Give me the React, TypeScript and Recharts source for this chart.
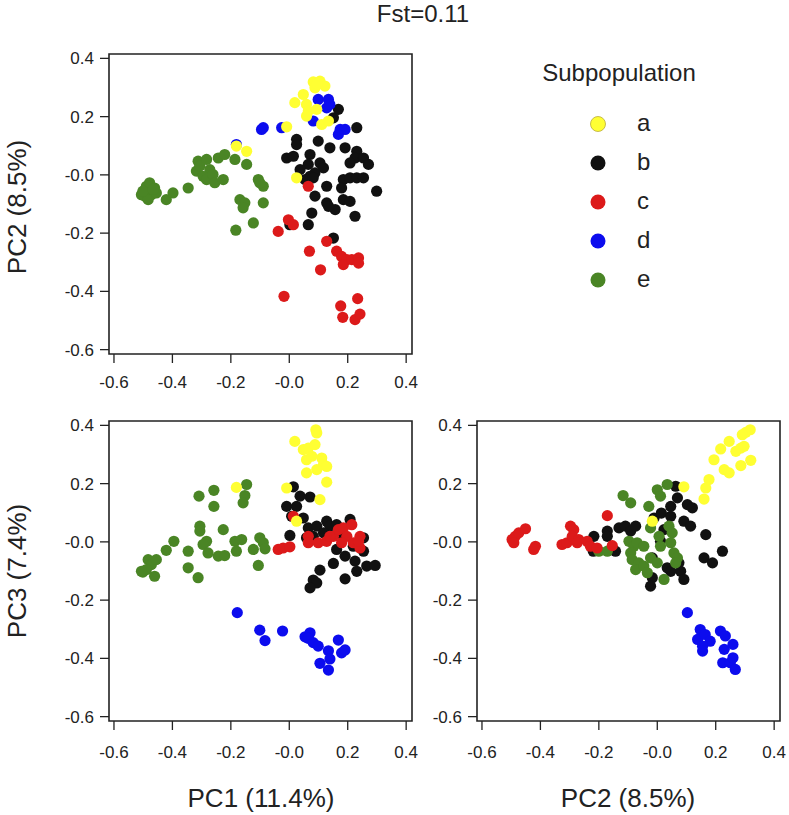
import { ScatterChart, Scatter, XAxis, YAxis, ReferenceArea } from "recharts";

type Pt = [number, number];

const ticks = [-0.6, -0.4, -0.2, 0, 0.2, 0.4];
const xDomain: [number, number] = [-0.617, 0.42];
const yDomain: [number, number] = [-0.615, 0.415];

const groups = ["a", "b", "c", "d", "e"];
const colors: Record<string, string> = {
  a: "#ffff33",
  b: "#111111",
  c: "#dc1a1a",
  d: "#0c0cee",
  e: "#4a8525",
};
// draw order, last on top
const drawOrder = ["b", "e", "c", "d", "a"];

// PC1 vs PC2
const pc1pc2A: Pt[] = [
  [0.082, 0.319], [0.105, 0.322], [0.122, 0.305], [0.088, 0.299], [0.095, 0.312],
  [0.048, 0.276], [0.019, 0.248], [0.059, 0.242], [0.065, 0.219], [0.094, 0.225],
  [0.059, 0.202], [0.111, 0.173], [0.134, 0.185], [-0.009, 0.165], [0.025, -0.01],
  [-0.181, 0.099], [-0.146, 0.081],
];
const pc1pc2B: Pt[] = [
  [0.168, 0.225], [0.151, 0.196], [0.231, 0.162], [0.025, 0.122], [0.025, 0.104],
  [0.099, 0.116], [0.139, 0.093], [0.191, 0.093], [0.231, 0.081], [0.071, 0.07],
  [-0.009, 0.058], [0.014, 0.064], [0.225, 0.058], [0.254, 0.058], [0.271, 0.036],
  [0.208, 0.041], [0.065, 0.036], [0.105, 0.041], [0.117, 0.024], [0.037, 0.018],
  [0.088, 0.007], [0.071, -0.005], [0.054, -0.016], [0.082, -0.01], [0.128, -0.039],
  [0.185, -0.016], [0.208, -0.01], [0.231, -0.01], [0.254, -0.01], [0.179, -0.045],
  [0.299, -0.056], [0.185, -0.085], [0.208, -0.091], [0.088, -0.073], [0.128, -0.096],
  [0.157, -0.119], [0.134, -0.108], [0.077, -0.131], [0.225, -0.142], [0.065, -0.171],
  [0.002, -0.171], [0.151, -0.217],
];
const pc1pc2C: Pt[] = [
  [0.065, -0.039], [-0.003, -0.154], [0.014, -0.171], [-0.038, -0.194], [0.128, -0.228],
  [0.069, -0.262], [0.162, -0.262], [0.179, -0.28], [0.197, -0.291], [0.185, -0.308],
  [0.214, -0.291], [0.237, -0.285], [0.237, -0.303], [0.107, -0.326], [-0.018, -0.417],
  [0.176, -0.45], [0.234, -0.425], [0.183, -0.489], [0.225, -0.497], [0.242, -0.478],
];
const pc1pc2D: Pt[] = [
  [0.099, 0.259], [0.134, 0.259], [0.128, 0.23], [0.139, 0.242], [0.082, 0.185],
  [0.174, 0.156], [0.191, 0.156], [0.168, 0.139], [-0.095, 0.156], [-0.089, 0.162],
  [-0.026, 0.162], [-0.181, 0.104],
];
const pc1pc2E: Pt[] = [
  [-0.506, -0.068], [-0.489, -0.039], [-0.478, -0.027], [-0.461, -0.045], [-0.472, -0.068],
  [-0.495, -0.073], [-0.483, -0.085], [-0.455, -0.062], [-0.501, -0.056], [-0.466, -0.05],
  [-0.421, -0.085], [-0.398, -0.062], [-0.346, -0.045], [-0.318, 0.013], [-0.312, 0.047],
  [-0.306, 0.03], [-0.283, 0.053], [-0.272, 0.018], [-0.295, -0.005], [-0.283, -0.016],
  [-0.261, 0.001], [-0.255, -0.027], [-0.243, 0.058], [-0.226, -0.016], [-0.221, 0.07],
  [-0.186, 0.053], [-0.146, 0.036], [-0.106, -0.016], [-0.089, -0.039], [-0.101, -0.027],
  [-0.169, -0.085], [-0.152, -0.096], [-0.158, -0.113], [-0.089, -0.096], [-0.123, -0.165],
  [-0.183, -0.19],
];

// PC1 vs PC3
const pc1pc3A: Pt[] = [
  [0.091, 0.385], [0.094, 0.374], [0.019, 0.345], [0.048, 0.317], [0.065, 0.322],
  [0.088, 0.334], [0.059, 0.282], [0.077, 0.294], [0.111, 0.288], [0.117, 0.265],
  [0.128, 0.259], [0.094, 0.248], [0.059, 0.237], [0.128, 0.205], [0.105, 0.145],
  [-0.181, 0.187], [-0.009, 0.185], [0.025, 0.071],
];
const pc1pc3B: Pt[] = [
  [0.014, 0.189], [0.037, 0.157], [0.071, 0.154], [-0.009, 0.122], [0.025, 0.122],
  [0.048, 0.082], [0.008, 0.088], [0.002, 0.022], [0.065, 0.048], [0.094, 0.054],
  [0.128, 0.071], [0.139, 0.054], [0.162, 0.059], [0.208, 0.077], [0.082, 0.019],
  [0.117, 0.031], [0.185, 0.019], [0.254, 0.014], [0.162, -0.026], [0.219, -0.015],
  [0.254, -0.032], [0.191, -0.049], [0.225, -0.066], [0.265, -0.083], [0.294, -0.081],
  [0.151, -0.074], [0.105, -0.097], [0.231, -0.101], [0.191, -0.127], [0.082, -0.131],
  [0.094, -0.141], [0.071, -0.158], [0.059, 0.014],
];
const pc1pc3C: Pt[] = [
  [-0.038, -0.026], [-0.021, -0.021], [0.002, -0.017], [0.014, 0.088], [0.065, 0.019],
  [0.065, -0.003], [0.099, -0.003], [0.128, 0.002], [0.151, 0.019], [0.168, 0.042],
  [0.185, 0.048], [0.214, 0.059], [0.197, 0.019], [0.179, -0.003], [0.219, -0.003],
  [0.242, 0.019], [0.242, -0.021], [0.237, 0.002], [0.139, 0.019],
];
const pc1pc3D: Pt[] = [
  [-0.178, -0.243], [-0.101, -0.303], [-0.083, -0.339], [-0.023, -0.306], [0.054, -0.326],
  [0.071, -0.312], [0.065, -0.331], [0.082, -0.346], [0.099, -0.358], [0.134, -0.374],
  [0.139, -0.402], [0.105, -0.417], [0.134, -0.44], [0.168, -0.337], [0.179, -0.381],
  [0.191, -0.371],
];
const pc1pc3E: Pt[] = [
  [-0.501, -0.104], [-0.483, -0.061], [-0.472, -0.078], [-0.455, -0.061], [-0.489, -0.095],
  [-0.461, -0.118], [-0.506, -0.101], [-0.421, -0.029], [-0.395, 0.002], [-0.346, -0.032],
  [-0.346, -0.089], [-0.312, -0.123], [-0.309, 0.157], [-0.258, 0.177], [-0.258, 0.122],
  [-0.306, 0.054], [-0.306, 0.037], [-0.283, 0.002], [-0.295, -0.009], [-0.278, -0.038],
  [-0.243, -0.049], [-0.221, -0.047], [-0.226, 0.042], [-0.186, 0.002], [-0.163, 0.008],
  [-0.181, -0.032], [-0.146, 0.197], [-0.152, 0.159], [-0.158, 0.134], [-0.123, -0.026],
  [-0.101, 0.014], [-0.089, -0.003], [-0.083, -0.024], [-0.106, -0.081],
];

// PC2 vs PC3
const pc2pc3A: Pt[] = [
  [0.318, 0.385], [0.303, 0.376], [0.291, 0.368], [0.246, 0.345], [0.217, 0.319],
  [0.269, 0.311], [0.286, 0.322], [0.297, 0.328], [0.194, 0.282], [0.229, 0.248],
  [0.246, 0.237], [0.286, 0.262], [0.32, 0.28], [0.177, 0.214], [0.166, 0.185],
  [0.16, 0.147], [0.091, 0.189], [-0.017, 0.071],
];
const pc2pc3B: Pt[] = [
  [-0.217, 0.019], [-0.219, -0.032], [-0.171, 0.037], [-0.171, 0.019], [-0.143, -0.032],
  [-0.131, 0.048], [-0.109, 0.054], [-0.091, 0.037], [-0.074, 0.054], [-0.011, 0.082],
  [0.014, 0.099], [0.046, 0.088], [0.046, 0.122], [0.069, 0.151], [0.063, 0.191],
  [0.103, 0.128], [0.12, 0.117], [0.091, 0.071], [0.114, 0.054], [0.166, 0.025],
  [0.16, -0.055], [0.189, -0.072], [0.223, -0.032], [-0.017, -0.055], [-0.017, -0.123],
  [-0.023, -0.152], [0.034, -0.089], [0.046, -0.101], [0.074, -0.072], [0.08, -0.101],
  [0.091, -0.129], [0.011, 0.002], [0.023, 0.042],
];
const pc2pc3C: Pt[] = [
  [-0.497, 0.008], [-0.486, 0.019], [-0.474, 0.031], [-0.451, 0.045], [-0.491, -0.003],
  [-0.417, -0.015], [-0.423, -0.026], [-0.326, -0.009], [-0.309, -0.003], [-0.297, 0.054],
  [-0.286, 0.042], [-0.291, 0.019], [-0.269, 0.008], [-0.274, -0.003], [-0.24, 0.002],
  [-0.229, -0.015], [-0.171, 0.09], [-0.154, -0.013], [-0.206, -0.021],
];
const pc2pc3D: Pt[] = [
  [0.103, -0.243], [0.147, -0.301], [0.138, -0.335], [0.164, -0.318], [0.155, -0.375],
  [0.181, -0.341], [0.216, -0.306], [0.233, -0.323], [0.229, -0.369], [0.259, -0.352],
  [0.224, -0.415], [0.25, -0.415], [0.259, -0.398], [0.267, -0.438], [0.155, -0.358],
];
const pc2pc3E: Pt[] = [
  [-0.117, 0.159], [-0.091, 0.134], [-0.029, 0.122], [0.0, 0.179], [0.011, 0.157],
  [0.034, 0.197], [-0.023, 0.048], [-0.097, 0.002], [-0.08, -0.015], [-0.091, -0.038],
  [-0.069, -0.003], [-0.046, -0.015], [-0.086, -0.061], [-0.063, -0.072], [-0.074, -0.095],
  [-0.046, -0.083], [-0.034, -0.106], [-0.023, -0.055], [0.006, 0.019], [0.011, -0.015],
  [0.0, -0.072], [0.023, -0.129], [0.04, 0.054], [0.051, 0.031], [0.046, -0.003],
  [0.057, -0.038], [0.069, -0.055], [0.063, -0.072], [-0.2, -0.032], [-0.171, -0.032],
];

const fmt = (v: number) => (Math.abs(v) < 1e-9 ? "-0.0" : v.toFixed(1));
const font = "'Liberation Sans', Arial, sans-serif";
const TICK_FONT = 17;

const toRows = (pts: Pt[]) => pts.map(([x, y]) => ({ x, y }));

const xTick = (p: any) => (
  <text x={p.x} y={p.y} dy="0.71em" textAnchor="middle" fontSize={TICK_FONT} fontFamily={font} fill="#222">
    {fmt(p.payload.value)}
  </text>
);
const yTick = (p: any) => (
  <text x={p.x} y={p.y} dy="0.355em" textAnchor="end" fontSize={TICK_FONT} fontFamily={font} fill="#222">
    {fmt(p.payload.value)}
  </text>
);

type PanelProps = {
  left: number;
  top: number;
  series: Record<string, Pt[]>;
  xMargin: number;
};

const PLOT_W = 303;
const PLOT_H = 300;

function Panel({ left, top, series, xMargin }: PanelProps) {
  return (
    <div style={{ position: "absolute", left: left - 70, top: top - 10 }}>
      <ScatterChart
        width={70 + PLOT_W + 20}
        height={10 + PLOT_H + 50}
        margin={{ top: 10, right: 20, bottom: 10, left: 10 }}
      >
        <XAxis
          type="number"
          dataKey="x"
          domain={xDomain}
          ticks={ticks}
          allowDataOverflow
          height={40}
          tickSize={9}
          tickMargin={xMargin}
          axisLine={false}
          tickLine={{ stroke: "#222", strokeWidth: 1.3 }}
          tick={xTick}
        />
        <YAxis
          type="number"
          dataKey="y"
          domain={yDomain}
          ticks={ticks}
          allowDataOverflow
          width={60}
          tickSize={9}
          tickMargin={6}
          axisLine={false}
          tickLine={{ stroke: "#222", strokeWidth: 1.3 }}
          tick={yTick}
        />
        <ReferenceArea
          x1={xDomain[0]}
          x2={xDomain[1]}
          y1={yDomain[0]}
          y2={yDomain[1]}
          fill="none"
          fillOpacity={0}
          stroke="#222"
          strokeWidth={1.6}
          ifOverflow="visible"
        />
        {drawOrder.map((g) => (
          <Scatter
            key={g}
            name={g}
            data={toRows(series[g])}
            fill={colors[g]}
            isAnimationActive={false}
            shape={(p: any) => <circle cx={p.cx} cy={p.cy} r={5.6} fill={colors[g]} />}
          />
        ))}
      </ScatterChart>
    </div>
  );
}

export default function App() {
  return (
    <div
      style={{
        position: "absolute",
        left: 0,
        top: 0,
        width: 789,
        height: 815,
        background: "#fff",
        fontFamily: font,
      }}
    >
      <Panel
        left={109}
        top={54}
        xMargin={13}
        series={{ a: pc1pc2A, b: pc1pc2B, c: pc1pc2C, d: pc1pc2D, e: pc1pc2E }}
      />
      <Panel
        left={109}
        top={421}
        xMargin={16}
        series={{ a: pc1pc3A, b: pc1pc3B, c: pc1pc3C, d: pc1pc3D, e: pc1pc3E }}
      />
      <Panel
        left={477}
        top={421}
        xMargin={16}
        series={{ a: pc2pc3A, b: pc2pc3B, c: pc2pc3C, d: pc2pc3D, e: pc2pc3E }}
      />
      <svg
        width={789}
        height={815}
        style={{ position: "absolute", left: 0, top: 0, pointerEvents: "none" }}
        fontFamily={font}
        fill="#222"
      >
        <text x={423} y={22} fontSize={24} textAnchor="middle">Fst=0.11</text>
        <text x={26} y={207} fontSize={26} textAnchor="middle" transform="rotate(-90 26 207)">
          PC2 (8.5%)
        </text>
        <text x={26} y={571} fontSize={26} textAnchor="middle" transform="rotate(-90 26 571)">
          PC3 (7.4%)
        </text>
        <text x={261} y={807} fontSize={26} textAnchor="middle">PC1 (11.4%)</text>
        <text x={628} y={807} fontSize={26} textAnchor="middle">PC2 (8.5%)</text>
        <text x={619} y={81} fontSize={24} textAnchor="middle">Subpopulation</text>
        {groups.map((g, i) => (
          <g key={g}>
            <circle
              cx={598}
              cy={124 + i * 39}
              r={7.5}
              fill={colors[g]}
              stroke={g === "a" ? "#b9a93a" : "none"}
              strokeWidth={0.8}
            />
            <text x={637} y={131 + i * 39} fontSize={24}>{g}</text>
          </g>
        ))}
      </svg>
    </div>
  );
}
